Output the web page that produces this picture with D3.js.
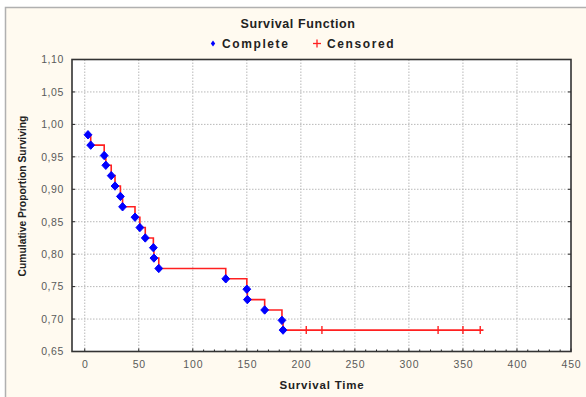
<!DOCTYPE html>
<html><head><meta charset="utf-8">
<script src="https://cdn.jsdelivr.net/npm/d3@7"></script>
<style>
html,body{margin:0;padding:0;background:#fff;}
svg{display:block;}
</style></head>
<body>
<script>
// Event (complete) times and Kaplan-Meier survival values
const eventTimes = [3, 5.5, 18, 19.5, 24.5, 28, 33, 35, 46.5, 51, 56, 63.5, 64, 68.5, 130.5, 150, 150.5, 166.5, 182.5, 183.5];
const survival   = [0.984, 0.968, 0.952, 0.937, 0.921, 0.905, 0.889, 0.873, 0.857, 0.841, 0.825, 0.810, 0.794, 0.778, 0.762, 0.746, 0.730, 0.714, 0.698, 0.683];
// Censored observation times
const censoredTimes = [205, 219.5, 327, 350, 366];
const lastTime = 369;
const xTicks = [0, 50, 100, 150, 200, 250, 300, 350, 400, 450];
const yTicks = [0.65, 0.70, 0.75, 0.80, 0.85, 0.90, 0.95, 1.00, 1.05, 1.10];
const xMinorTicks = [110,120,130,140,160,170,180,190,210,220,230,240,260,270,280,290,310,320,330,340,360,370,380,390,410,420,430,440];

const W = 586, H = 397;
const L = 72, R = 571, T = 59.5, B = 351.5;
const FONT = "Liberation Sans, Arial, sans-serif";

const svg = d3.select("body").append("svg").attr("width", W).attr("height", H);
svg.append("rect").attr("x",0).attr("y",0).attr("width",W).attr("height",H).attr("fill","#fff");
svg.append("rect").attr("x",5.5).attr("y",7.5).attr("width",W).attr("height",H)
  .attr("fill","#fffaf0").attr("stroke","#b0b0b0").attr("stroke-width",1.5);

const x = d3.scaleLinear().domain([-11.8, 450]).range([L, R]);
const y = d3.scaleLinear().domain([0.65, 1.10]).range([B, T]);

svg.append("rect").attr("x",L).attr("y",T).attr("width",R-L).attr("height",B-T).attr("fill","#fff");

// grid
const g = svg.append("g");
g.selectAll(".gx").data(xTicks.filter(d=>d<450)).enter().append("line")
  .attr("x1",d=>x(d)).attr("x2",d=>x(d)).attr("y1",T).attr("y2",B)
  .attr("stroke","#b8b8b8").attr("stroke-dasharray","1.5,1.5").attr("stroke-width",1);
g.selectAll(".gy").data(yTicks.filter(d=>d>0.65 && d<1.10)).enter().append("line")
  .attr("x1",L).attr("x2",R).attr("y1",d=>y(d)).attr("y2",d=>y(d))
  .attr("stroke","#b8b8b8").attr("stroke-dasharray","1.5,1.5").attr("stroke-width",1);

// axes
const xAxis = d3.axisBottom(x).tickValues(xTicks).tickSize(0).tickPadding(9).tickFormat(d3.format("d"));
const gx = svg.append("g").attr("transform",`translate(0,${B})`).call(xAxis);
gx.select(".domain").remove();
gx.selectAll("text").attr("fill","#5a5a5a").attr("font-family",FONT)
  .attr("font-size",10.5).attr("letter-spacing","0.8px");

const fmtY = d => d3.format(".2f")(d).replace(".", ",");
const yAxis = d3.axisLeft(y).tickValues(yTicks).tickSize(0).tickPadding(8).tickFormat(fmtY);
const gy = svg.append("g").attr("transform",`translate(${L},0)`).call(yAxis);
gy.select(".domain").remove();
gy.selectAll("text").attr("fill","#5a5a5a").attr("font-family",FONT)
  .attr("font-size",10.5).attr("letter-spacing","0.6px");

// tick marks (inside)
svg.append("g").selectAll("line").data(xTicks).enter().append("line")
  .attr("x1",d=>x(d)).attr("x2",d=>x(d)).attr("y1",B).attr("y2",B-3).attr("stroke","#222");
svg.append("g").selectAll("line").data(xMinorTicks).enter().append("line")
  .attr("x1",d=>x(d)).attr("x2",d=>x(d)).attr("y1",B).attr("y2",B-2).attr("stroke","#222");
svg.append("g").selectAll("line").data(yTicks).enter().append("line")
  .attr("x1",L).attr("x2",L+3).attr("y1",d=>y(d)).attr("y2",d=>y(d)).attr("stroke","#222");
svg.append("g").selectAll("line").data(yTicks).enter().append("line")
  .attr("x1",R).attr("x2",R-3).attr("y1",d=>y(d)).attr("y2",d=>y(d)).attr("stroke","#222");

// frame
svg.append("rect").attr("x",L).attr("y",T).attr("width",R-L).attr("height",B-T)
  .attr("fill","none").attr("stroke","#333").attr("stroke-width",1.6);

// step line
const pts = [];
pts.push([eventTimes[0], survival[0]]);
for (let i = 1; i < eventTimes.length; i++) {
  pts.push([eventTimes[i], survival[i-1]]);
  pts.push([eventTimes[i], survival[i]]);
}
pts.push([lastTime, survival[survival.length-1]]);
const line = d3.line().x(d=>x(d[0])).y(d=>y(d[1]));
svg.append("path").datum(pts).attr("d",line).attr("fill","none")
  .attr("stroke","#ff2020").attr("stroke-width",1.6);

// censored marks
const lastS = survival[survival.length-1];
svg.append("g").selectAll("line").data(censoredTimes).enter().append("line")
  .attr("x1",d=>x(d)).attr("x2",d=>x(d)).attr("y1",y(lastS)-4).attr("y2",y(lastS)+4)
  .attr("stroke","#ff2020").attr("stroke-width",1.4);

// complete points (diamonds)
const diamond = (cx, cy, w, h) => `M${cx},${cy-h}L${cx+w},${cy}L${cx},${cy+h}L${cx-w},${cy}Z`;
svg.append("g").selectAll("path").data(eventTimes.map((t,i)=>[t, survival[i]])).enter().append("path")
  .attr("d",d=>diamond(x(d[0]), y(d[1]), 3.9, 4.2)).attr("fill","#0000ff").attr("stroke","#0000ff").attr("stroke-width",1).attr("stroke-linejoin","round");

// title and legend
svg.append("text").attr("x",298).attr("y",28).attr("text-anchor","middle")
  .attr("font-family",FONT).attr("font-weight","bold").attr("font-size",12.5)
  .attr("letter-spacing","0.6px").attr("fill","#222").text("Survival Function");
svg.append("path").attr("d",diamond(213, 43.5, 2.2, 3)).attr("fill","#0000ff");
svg.append("text").attr("x",222).attr("y",48).attr("font-family",FONT)
  .attr("font-weight","bold").attr("font-size",12).attr("letter-spacing","1.6px").attr("fill","#222").text("Complete");
svg.append("line").attr("x1",313).attr("x2",321).attr("y1",43.5).attr("y2",43.5).attr("stroke","#ff2020").attr("stroke-width",1.3);
svg.append("line").attr("x1",317).attr("x2",317).attr("y1",39.5).attr("y2",47.5).attr("stroke","#ff2020").attr("stroke-width",1.3);
svg.append("text").attr("x",327).attr("y",48).attr("font-family",FONT)
  .attr("font-weight","bold").attr("font-size",12).attr("letter-spacing","1.6px").attr("fill","#222").text("Censored");

// axis titles
svg.append("text").attr("x",322).attr("y",389).attr("text-anchor","middle")
  .attr("font-family",FONT).attr("font-weight","bold").attr("font-size",11.5)
  .attr("letter-spacing","0.8px").attr("fill","#222").text("Survival Time");
svg.append("text").attr("transform","translate(26,196) rotate(-90)").attr("text-anchor","middle")
  .attr("font-family",FONT).attr("font-weight","bold").attr("font-size",10.3)
  .attr("fill","#222").text("Cumulative Proportion Surviving");
</script>
</body></html>
